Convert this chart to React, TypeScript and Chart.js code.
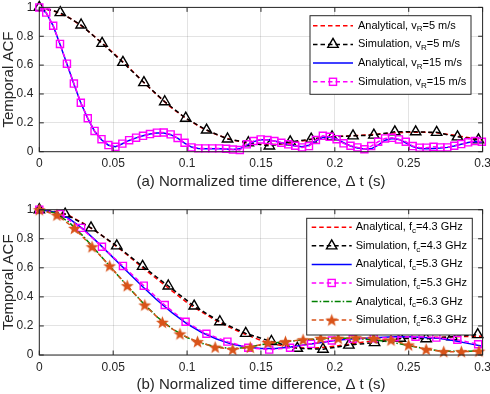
import React, { useEffect, useRef } from 'react';
import { Chart, registerables } from 'chart.js';

Chart.register(...registerables);

const FONT = "'Liberation Sans', Arial, Helvetica, sans-serif";
const TEXT = '#262626';

// ---------- axes ----------
const xTickVals = [0, 0.05, 0.1, 0.15, 0.2, 0.25, 0.3];
const xTickLabels = ['0', '0.05', '0.1', '0.15', '0.2', '0.25', '0.3'];
const yTickVals = [0, 0.2, 0.4, 0.6, 0.8, 1];
const yTickLabels = ['0', '0.2', '0.4', '0.6', '0.8', '1'];

// common grid of analytical curves
const tGrid = [0, 0.01, 0.02, 0.03, 0.04, 0.05, 0.06, 0.07, 0.08, 0.09, 0.1, 0.11, 0.12, 0.13, 0.14, 0.15,
  0.16, 0.17, 0.18, 0.19, 0.2, 0.21, 0.22, 0.23, 0.24, 0.25, 0.26, 0.27, 0.28, 0.29, 0.3];

// ---------- panel (a) ----------
const aAnaY5 = [1.0, 0.975, 0.93, 0.862, 0.775, 0.685, 0.59, 0.487, 0.39, 0.3, 0.225, 0.165, 0.118, 0.083, 0.062,
  0.052, 0.05, 0.06, 0.078, 0.095, 0.105, 0.11, 0.115, 0.122, 0.13, 0.135, 0.135, 0.13, 0.115, 0.098, 0.08];

const aSimX5 = [0, 0.0142, 0.0283, 0.0425, 0.0566, 0.0708, 0.0849, 0.0991, 0.1132, 0.1274, 0.1415, 0.1557,
  0.1698, 0.184, 0.1981, 0.2123, 0.2264, 0.2406, 0.2547, 0.2689, 0.283, 0.2972];
const aSimY5 = [1.0, 0.964, 0.878, 0.751, 0.619, 0.479, 0.346, 0.232, 0.15, 0.088, 0.062, 0.04, 0.068, 0.087,
  0.103, 0.11, 0.115, 0.138, 0.138, 0.134, 0.103, 0.082];

const aX15 = [0, 0.0047, 0.0094, 0.014, 0.0187, 0.0234, 0.0281, 0.0328, 0.0374, 0.0421, 0.0468, 0.0515, 0.0562,
  0.0608, 0.0655, 0.0702, 0.0749, 0.0796, 0.0842, 0.0889, 0.0936, 0.0983, 0.103, 0.1076, 0.1123, 0.117, 0.1217,
  0.1264, 0.131, 0.1357, 0.1404, 0.1451, 0.1498, 0.1544, 0.1591, 0.1638, 0.1685, 0.1732, 0.1778, 0.1825, 0.1872,
  0.1919, 0.1966, 0.2012, 0.2059, 0.2106, 0.2153, 0.22, 0.2246, 0.2293, 0.234, 0.2387, 0.2434, 0.248, 0.2527,
  0.2574, 0.2621, 0.2668, 0.2714, 0.2761, 0.2808, 0.2855, 0.2902, 0.2948, 0.2995];
const aAnaY15 = [1.0, 0.962, 0.872, 0.745, 0.608, 0.47, 0.338, 0.23, 0.142, 0.083, 0.045, 0.035, 0.055, 0.078,
  0.096, 0.11, 0.122, 0.13, 0.13, 0.118, 0.094, 0.06, 0.032, 0.022, 0.02, 0.02, 0.02, 0.018, 0.016, 0.02, 0.045,
  0.07, 0.082, 0.082, 0.074, 0.062, 0.05, 0.04, 0.035, 0.045, 0.075, 0.1, 0.1, 0.088, 0.062, 0.04, 0.025, 0.018,
  0.02, 0.045, 0.08, 0.092, 0.085, 0.062, 0.035, 0.022, 0.02, 0.022, 0.025, 0.03, 0.04, 0.052, 0.063, 0.07, 0.068];
const aSimY15 = [1.0, 0.964, 0.873, 0.747, 0.61, 0.472, 0.339, 0.232, 0.144, 0.087, 0.046, 0.034, 0.056, 0.08,
  0.097, 0.11, 0.122, 0.132, 0.133, 0.12, 0.095, 0.062, 0.03, 0.023, 0.023, 0.023, 0.023, 0.02, 0.015, 0.012, 0.051,
  0.074, 0.085, 0.081, 0.074, 0.062, 0.051, 0.041, 0.03, 0.039, 0.081, 0.11, 0.103, 0.087, 0.058, 0.041, 0.03,
  0.017, 0.039, 0.069, 0.092, 0.096, 0.085, 0.069, 0.039, 0.028, 0.028, 0.034, 0.03, 0.03, 0.041, 0.053, 0.065,
  0.074, 0.069];

// ---------- panel (b) ----------
const bAnaY43 = [1.0, 0.99, 0.96, 0.905, 0.84, 0.765, 0.685, 0.6, 0.52, 0.44, 0.36, 0.295, 0.235, 0.185, 0.14,
  0.1, 0.072, 0.055, 0.047, 0.05, 0.06, 0.075, 0.09, 0.1, 0.11, 0.115, 0.12, 0.122, 0.125, 0.128, 0.13];
const bSimX43 = [0, 0.0175, 0.035, 0.0524, 0.0699, 0.0873, 0.1048, 0.1222, 0.1397, 0.1571, 0.1746, 0.192,
  0.2095, 0.2269, 0.2444, 0.2618, 0.2793, 0.2967];
const bSimY43 = [1.0, 0.97, 0.875, 0.751, 0.61, 0.475, 0.337, 0.229, 0.149, 0.093, 0.046, 0.04, 0.068, 0.085,
  0.115, 0.112, 0.126, 0.14];

const bAnaY53 = [1.0, 0.985, 0.94, 0.865, 0.77, 0.67, 0.57, 0.47, 0.375, 0.29, 0.215, 0.155, 0.11, 0.075, 0.055,
  0.045, 0.045, 0.055, 0.07, 0.085, 0.1, 0.11, 0.115, 0.12, 0.125, 0.125, 0.12, 0.115, 0.1, 0.08, 0.06];
const bSimX53 = [0, 0.0141, 0.0283, 0.0424, 0.0566, 0.0707, 0.0849, 0.099, 0.1131, 0.1273, 0.1414, 0.1556,
  0.1697, 0.1839, 0.198, 0.2121, 0.2263, 0.2404, 0.2546, 0.2687, 0.2829, 0.297];
const bSimY53 = [1.0, 0.97, 0.875, 0.745, 0.613, 0.477, 0.344, 0.229, 0.146, 0.092, 0.05, 0.037, 0.05, 0.077,
  0.1, 0.112, 0.115, 0.122, 0.126, 0.12, 0.105, 0.074];

const bAnaY63 = [1.0, 0.98, 0.915, 0.815, 0.7, 0.585, 0.47, 0.36, 0.26, 0.18, 0.12, 0.08, 0.055, 0.045, 0.05,
  0.07, 0.085, 0.095, 0.105, 0.11, 0.115, 0.115, 0.11, 0.1, 0.085, 0.065, 0.045, 0.03, 0.025, 0.025, 0.03];
const bSimX63 = [0, 0.0119, 0.0238, 0.0357, 0.0476, 0.0595, 0.0714, 0.0833, 0.0952, 0.1071, 0.119, 0.1309,
  0.1428, 0.1547, 0.1666, 0.1785, 0.1904, 0.2023, 0.2142, 0.2261, 0.238, 0.2499, 0.2618, 0.2737, 0.2856, 0.2975];
const bSimY63 = [1.0, 0.963, 0.872, 0.745, 0.613, 0.477, 0.344, 0.225, 0.145, 0.092, 0.054, 0.039, 0.053, 0.085,
  0.092, 0.105, 0.115, 0.115, 0.119, 0.115, 0.103, 0.069, 0.039, 0.023, 0.023, 0.027];

// ---------- helpers ----------
const pts = (xs: number[], ys: number[]) => xs.map((x, i) => ({ x, y: ys[i] }));

const RED = '#ff0000';
const BLACK = '#000000';
const BLUE = '#0000ff';
const MAGENTA = '#ff00ff';
const GREEN = '#008000';
const ORANGE = '#D95319';
const DASH = [4.5, 3];
const DASHDOT = [6, 2, 1.5, 2];

function makeStar(color: string) {
  const size = 15;
  const c = document.createElement('canvas');
  c.width = size;
  c.height = size;
  const g = c.getContext('2d')!;
  const cx = size / 2, cy = size / 2 + 0.5, R = 6.8, r = R * 0.42;
  g.beginPath();
  for (let i = 0; i < 10; i++) {
    const a = -Math.PI / 2 + (i * Math.PI) / 5;
    const rr = i % 2 ? r : R;
    g.lineTo(cx + rr * Math.cos(a), cy + rr * Math.sin(a));
  }
  g.closePath();
  g.fillStyle = color;
  g.fill();
  return c;
}

type Marker = 'triangle' | 'rect' | HTMLCanvasElement | null;

function ana(xs: number[], ys: number[], color: string, dash: number[], order: number) {
  return {
    data: pts(xs, ys), showLine: true, borderColor: color, borderWidth: 1.5, borderDash: dash,
    pointRadius: 0, tension: 0, order, clip: false,
  };
}
function sim(xs: number[], ys: number[], color: string, marker: Marker, radius: number, order: number) {
  return {
    data: pts(xs, ys), showLine: true, borderColor: color, borderWidth: 1.5, borderDash: DASH,
    pointStyle: marker, pointRadius: radius, pointBorderColor: color, pointBorderWidth: 1.4,
    pointBackgroundColor: 'rgba(0,0,0,0)', tension: 0, order, clip: false,
  };
}

const framePlugin = {
  id: 'mframe',
  afterDatasetsDraw(chart: any) {
    const { ctx, chartArea, scales } = chart;
    const { left, right, top, bottom } = chartArea;
    const tl = 4.5;
    ctx.save();
    ctx.strokeStyle = TEXT;
    ctx.lineWidth = 1;
    ctx.setLineDash([]);
    ctx.beginPath();
    for (const v of xTickVals) {
      const px = scales.x.getPixelForValue(v);
      ctx.moveTo(px, bottom); ctx.lineTo(px, bottom - tl);
      ctx.moveTo(px, top); ctx.lineTo(px, top + tl);
    }
    for (const v of yTickVals) {
      const py = scales.y.getPixelForValue(v);
      ctx.moveTo(left, py); ctx.lineTo(left + tl, py);
      ctx.moveTo(right, py); ctx.lineTo(right - tl, py);
    }
    ctx.stroke();
    ctx.strokeRect(left, top, right - left, bottom - top);
    ctx.restore();
  },
};

interface LegItem { pre: string; sub: string; post: string; color: string; dash: number[]; marker: Marker; r: number }
interface LegCfg { x: number; y: number; w: number; h: number; rowY: number; rowGap: number; lx0: number; lx1: number; tx: number; items: LegItem[] }

function drawMarker(ctx: CanvasRenderingContext2D, m: Marker, x: number, y: number, r: number, color: string) {
  if (!m) return;
  ctx.save();
  ctx.setLineDash([]);
  ctx.strokeStyle = color;
  ctx.lineWidth = 1.4;
  if (m === 'triangle') {
    ctx.beginPath();
    for (let i = 0; i < 3; i++) {
      const a = (i * 2 * Math.PI) / 3;
      const px = x + Math.sin(a) * r, py = y - Math.cos(a) * r;
      if (i === 0) ctx.moveTo(px, py); else ctx.lineTo(px, py);
    }
    ctx.closePath();
    ctx.stroke();
  } else if (m === 'rect') {
    const s = r * Math.SQRT1_2;
    ctx.strokeRect(x - s, y - s, 2 * s, 2 * s);
  } else {
    ctx.drawImage(m, x - m.width / 2, y - m.height / 2);
  }
  ctx.restore();
}

function makeLegendPlugin(cfg: LegCfg) {
  return {
    id: 'mlegend',
    afterDraw(chart: any) {
      const ctx: CanvasRenderingContext2D = chart.ctx;
      ctx.save();
      ctx.fillStyle = '#ffffff';
      ctx.fillRect(cfg.x, cfg.y, cfg.w, cfg.h);
      ctx.strokeStyle = TEXT;
      ctx.lineWidth = 1;
      ctx.setLineDash([]);
      ctx.strokeRect(cfg.x, cfg.y, cfg.w, cfg.h);
      cfg.items.forEach((it, i) => {
        const cy = cfg.rowY + i * cfg.rowGap;
        ctx.save();
        ctx.strokeStyle = it.color;
        ctx.lineWidth = 1.5;
        ctx.setLineDash(it.dash);
        ctx.beginPath();
        ctx.moveTo(cfg.lx0, cy);
        ctx.lineTo(cfg.lx1, cy);
        ctx.stroke();
        ctx.restore();
        drawMarker(ctx, it.marker, (cfg.lx0 + cfg.lx1) / 2, cy, it.r, it.color);
        ctx.fillStyle = '#000000';
        ctx.textBaseline = 'middle';
        ctx.textAlign = 'left';
        let x = cfg.tx;
        ctx.font = `11px ${FONT}`;
        ctx.fillText(it.pre, x, cy);
        x += ctx.measureText(it.pre).width;
        ctx.font = `8px ${FONT}`;
        ctx.fillText(it.sub, x, cy + 3.5);
        x += ctx.measureText(it.sub).width;
        ctx.font = `11px ${FONT}`;
        ctx.fillText(it.post, x, cy);
      });
      ctx.restore();
    },
  };
}

interface PanelCfg { datasets: any[]; xTitle: string; padTop: number; padRight: number; xAxisHeight: number; titlePadBottom: number; legend: LegCfg }

function buildConfig(p: PanelCfg): any {
  const findLabel = (vals: number[], labels: string[], v: number) => {
    const i = vals.findIndex((t) => Math.abs(t - v) < 1e-9);
    return i >= 0 ? labels[i] : '';
  };
  const zeroPad = (s: any) => {
    s.paddingLeft = 0; s.paddingRight = 0; s.paddingTop = 0; s.paddingBottom = 0;
  };
  return {
    type: 'scatter',
    data: { datasets: p.datasets },
    options: {
      animation: false,
      responsive: false,
      devicePixelRatio: 1,
      events: [],
      layout: { padding: { left: 0, right: p.padRight, top: p.padTop, bottom: 0 } },
      plugins: { legend: { display: false }, tooltip: { enabled: false } },
      scales: {
        x: {
          type: 'linear', min: 0, max: 0.3,
          afterBuildTicks: (s: any) => { s.ticks = xTickVals.map((v) => ({ value: v })); },
          afterFit: (s: any) => { s.height = p.xAxisHeight; zeroPad(s); },
          grid: { color: 'rgba(38,38,38,0.13)', lineWidth: 1, drawTicks: false },
          border: { display: false },
          ticks: { padding: 5, color: TEXT, font: { family: FONT, size: 12 }, maxRotation: 0,
            callback: (v: number) => findLabel(xTickVals, xTickLabels, v) },
          title: { display: true, text: p.xTitle, color: TEXT, font: { family: FONT, size: 15 },
            padding: { top: 0, bottom: p.titlePadBottom } },
        },
        y: {
          type: 'linear', min: 0, max: 1,
          afterBuildTicks: (s: any) => { s.ticks = yTickVals.map((v) => ({ value: v })); },
          afterFit: (s: any) => { s.width = 39.3; zeroPad(s); },
          grid: { color: 'rgba(38,38,38,0.13)', lineWidth: 1, drawTicks: false },
          border: { display: false },
          ticks: { padding: 6, color: TEXT, font: { family: FONT, size: 12 },
            callback: (v: number) => findLabel(yTickVals, yTickLabels, v) },
          title: { display: true, text: 'Temporal ACF', color: TEXT, font: { family: FONT, size: 15 },
            padding: 0 },
        },
      },
    },
    plugins: [framePlugin, makeLegendPlugin(p.legend)],
  };
}

export default function App() {
  const r1 = useRef<HTMLCanvasElement>(null);
  const r2 = useRef<HTMLCanvasElement>(null);

  useEffect(() => {
    const star = makeStar(ORANGE);

    const cfgA = buildConfig({
      xTitle: '(a) Normalized time difference, \u0394 t (s)',
      padTop: 6.4, padRight: 6.7, xAxisHeight: 45.3, titlePadBottom: 6.3,
      datasets: [
        ana(tGrid, aAnaY5, RED, DASH, 4),
        sim(aSimX5, aSimY5, BLACK, 'triangle', 6, 3),
        ana(aX15, aAnaY15, BLUE, [], 2),
        sim(aX15, aSimY15, MAGENTA, 'rect', 5, 1),
      ],
      legend: {
        x: 310, y: 15.7, w: 161, h: 78.6, rowY: 25.7, rowGap: 18.7, lx0: 313, lx1: 353, tx: 358,
        items: [
          { pre: 'Analytical, v', sub: 'R', post: '=5 m/s', color: RED, dash: DASH, marker: null, r: 0 },
          { pre: 'Simulation, v', sub: 'R', post: '=5 m/s', color: BLACK, dash: DASH, marker: 'triangle', r: 6 },
          { pre: 'Analytical, v', sub: 'R', post: '=15 m/s', color: BLUE, dash: [], marker: null, r: 0 },
          { pre: 'Simulation, v', sub: 'R', post: '=15 m/s', color: MAGENTA, dash: DASH, marker: 'rect', r: 5 },
        ],
      },
    });

    const cfgB = buildConfig({
      xTitle: '(b) Normalized time difference, \u0394 t (s)',
      padTop: 12.7, padRight: 6.7, xAxisHeight: 39, titlePadBottom: 0,
      datasets: [
        ana(tGrid, bAnaY43, RED, DASH, 6),
        sim(bSimX43, bSimY43, BLACK, 'triangle', 6, 5),
        ana(tGrid, bAnaY53, BLUE, [], 4),
        sim(bSimX53, bSimY53, MAGENTA, 'rect', 5, 3),
        ana(tGrid, bAnaY63, GREEN, DASHDOT, 2),
        sim(bSimX63, bSimY63, ORANGE, star, 6, 1),
      ],
      legend: {
        x: 306.7, y: 21.3, w: 165.6, h: 116.7, rowY: 30.3, rowGap: 18.55, lx0: 311.7, lx1: 351.7, tx: 355.7,
        items: [
          { pre: 'Analytical, f', sub: 'c', post: '=4.3 GHz', color: RED, dash: DASH, marker: null, r: 0 },
          { pre: 'Simulation, f', sub: 'c', post: '=4.3 GHz', color: BLACK, dash: DASH, marker: 'triangle', r: 6 },
          { pre: 'Analytical, f', sub: 'c', post: '=5.3 GHz', color: BLUE, dash: [], marker: null, r: 0 },
          { pre: 'Simulation, f', sub: 'c', post: '=5.3 GHz', color: MAGENTA, dash: DASH, marker: 'rect', r: 5 },
          { pre: 'Analytical, f', sub: 'c', post: '=6.3 GHz', color: GREEN, dash: DASHDOT, marker: null, r: 0 },
          { pre: 'Simulation, f', sub: 'c', post: '=6.3 GHz', color: ORANGE, dash: DASH, marker: star, r: 6 },
        ],
      },
    });

    const c1 = new Chart(r1.current!, cfgA);
    const c2 = new Chart(r2.current!, cfgB);
    return () => {
      c1.destroy();
      c2.destroy();
    };
  }, []);

  return (
    <div style={{ position: 'fixed', left: 0, top: 0, width: 490, height: 394, background: '#ffffff', overflow: 'hidden' }}>
      <canvas ref={r1} width={490} height={197} style={{ position: 'absolute', left: 0, top: 0, width: 490, height: 197 }} />
      <canvas ref={r2} width={490} height={197} style={{ position: 'absolute', left: 0, top: 197, width: 490, height: 197 }} />
    </div>
  );
}
